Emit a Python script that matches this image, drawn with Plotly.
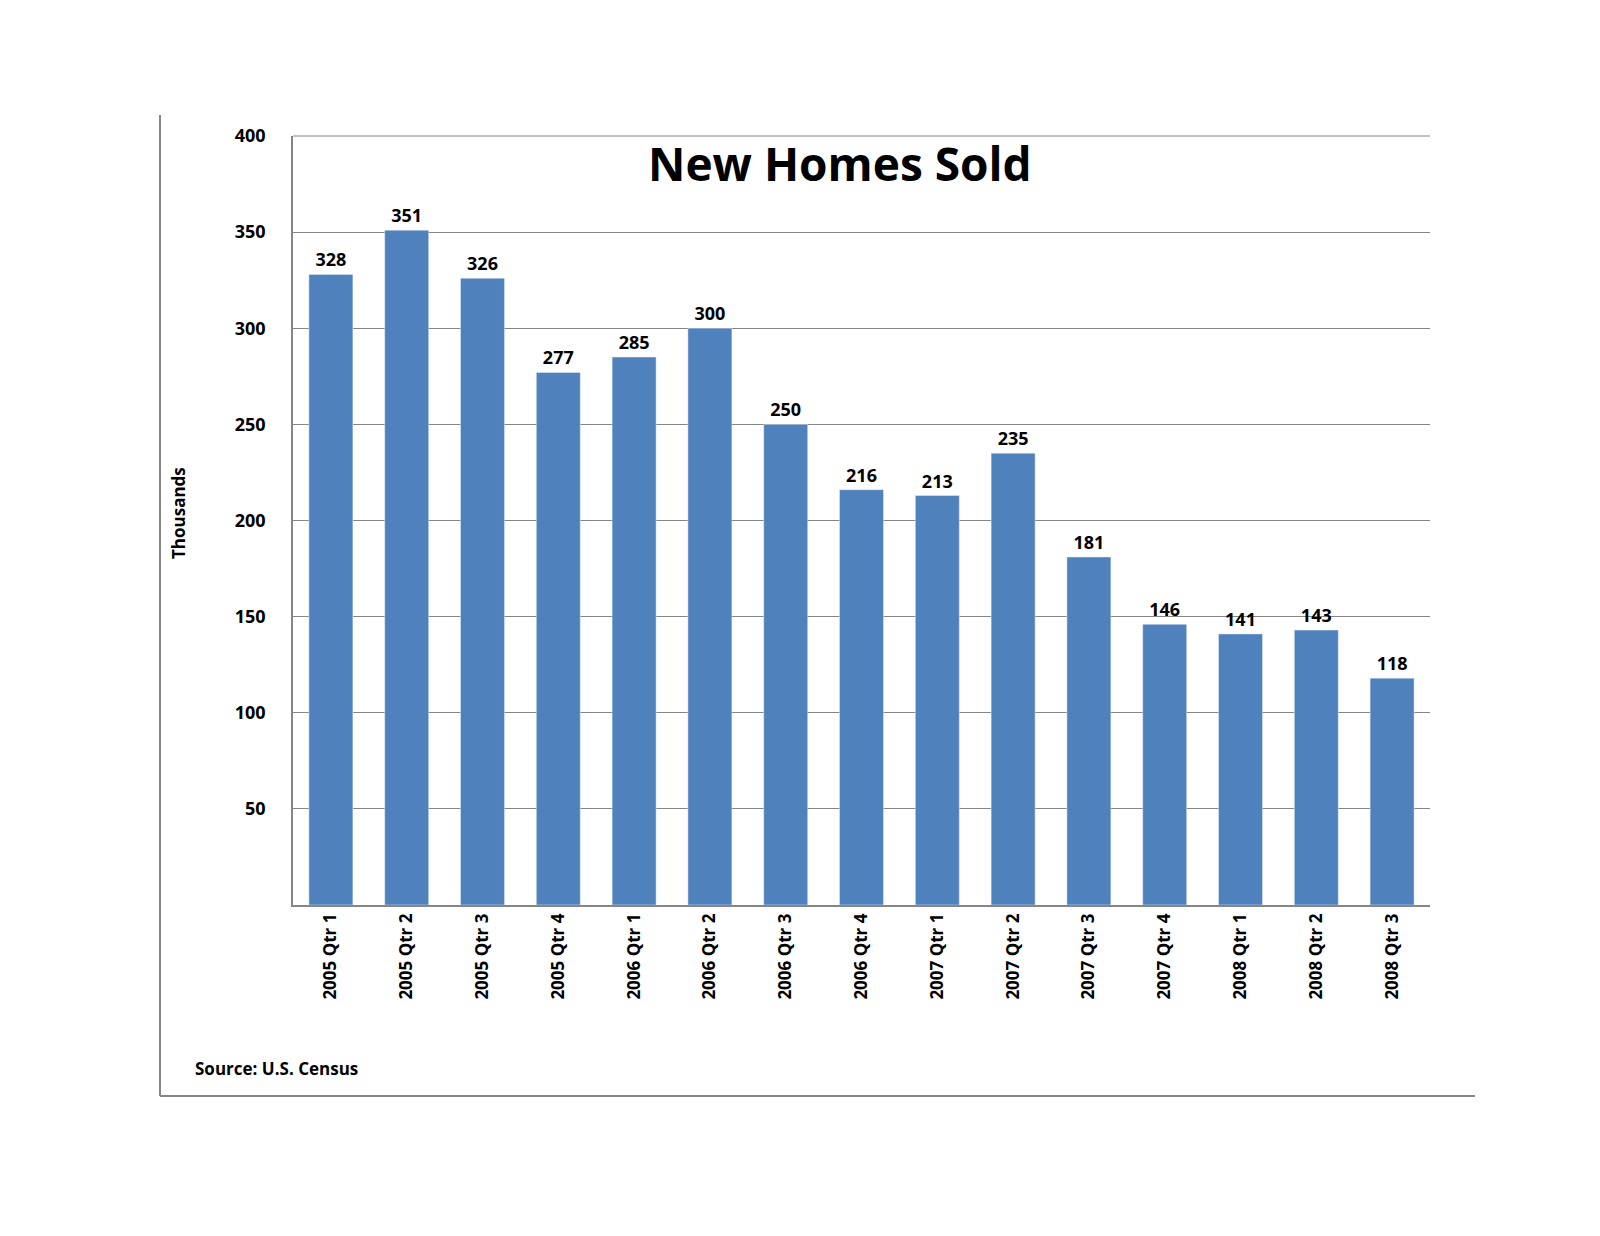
import plotly.graph_objects as go

categories = ["2005 Qtr 1","2005 Qtr 2","2005 Qtr 3","2005 Qtr 4","2006 Qtr 1","2006 Qtr 2","2006 Qtr 3","2006 Qtr 4",
              "2007 Qtr 1","2007 Qtr 2","2007 Qtr 3","2007 Qtr 4","2008 Qtr 1","2008 Qtr 2","2008 Qtr 3"]
values = [328,351,326,277,285,300,250,216,213,235,181,146,141,143,118]
tickvals = [50,100,150,200,250,300,350,400]

W, H = 1600, 1236
L, R, T, B = 285, 1422, 128, 897
font = "Open Sans"

def px(x): return (x - L) / (R - L)
def py(y): return (B - y) / (B - T)

fig = go.Figure(go.Bar(x=categories, y=values, marker_color="#4F81BD", width=0.58,
                       text=values, textposition="outside", cliponaxis=False,
                       textfont=dict(family=font, size=18, color="black", weight="bold")))
fig.update_layout(
    width=W, height=H, plot_bgcolor="white", paper_bgcolor="white", showlegend=False,
    margin=dict(l=L, r=W-R, t=T, b=H-B, autoexpand=False), bargap=0.42,
    xaxis=dict(showline=True, linecolor="#868686", linewidth=1.5, tickangle=-90,
               tickfont=dict(family=font, size=17, color="black", weight="bold"), ticks="outside", ticklen=0),
    yaxis=dict(range=[0,400], tickvals=tickvals, showgrid=True, gridcolor="#868686", gridwidth=1,
               showline=True, linecolor="#868686", linewidth=1.5, ticks="", ticklabelstandoff=22,
               tickfont=dict(family=font, size=18, color="black", weight="bold")),
    annotations=[
        dict(text="<b>New Homes Sold</b>", x=px(832), y=py(155), xref="paper", yref="paper",
             xanchor="center", yanchor="middle",
             showarrow=False, font=dict(family=font, size=46, color="black")),
        dict(text="<b>Thousands</b>", x=px(170), y=py(505), xref="paper", yref="paper", textangle=-90,
             xanchor="center", yanchor="middle",
             showarrow=False, font=dict(family=font, size=17, color="black")),
        dict(text="<b>Source: U.S. Census</b>", x=px(185), y=py(1060), xref="paper", yref="paper",
             xanchor="left", yanchor="middle", showarrow=False, font=dict(family=font, size=17, color="black")),
    ],
    shapes=[
        dict(type="line", xref="paper", yref="paper", x0=px(152), x1=px(152), y0=py(107), y1=py(1088),
             line=dict(color="#868686", width=2)),
        dict(type="line", xref="paper", yref="paper", x0=px(152), x1=px(1467), y0=py(1088), y1=py(1088),
             line=dict(color="#868686", width=2)),
        dict(type="line", xref="paper", yref="paper", x0=0, x1=1, y0=1, y1=1,
             line=dict(color="#868686", width=1)),
    ],
)
fig.write_html("out.html")
